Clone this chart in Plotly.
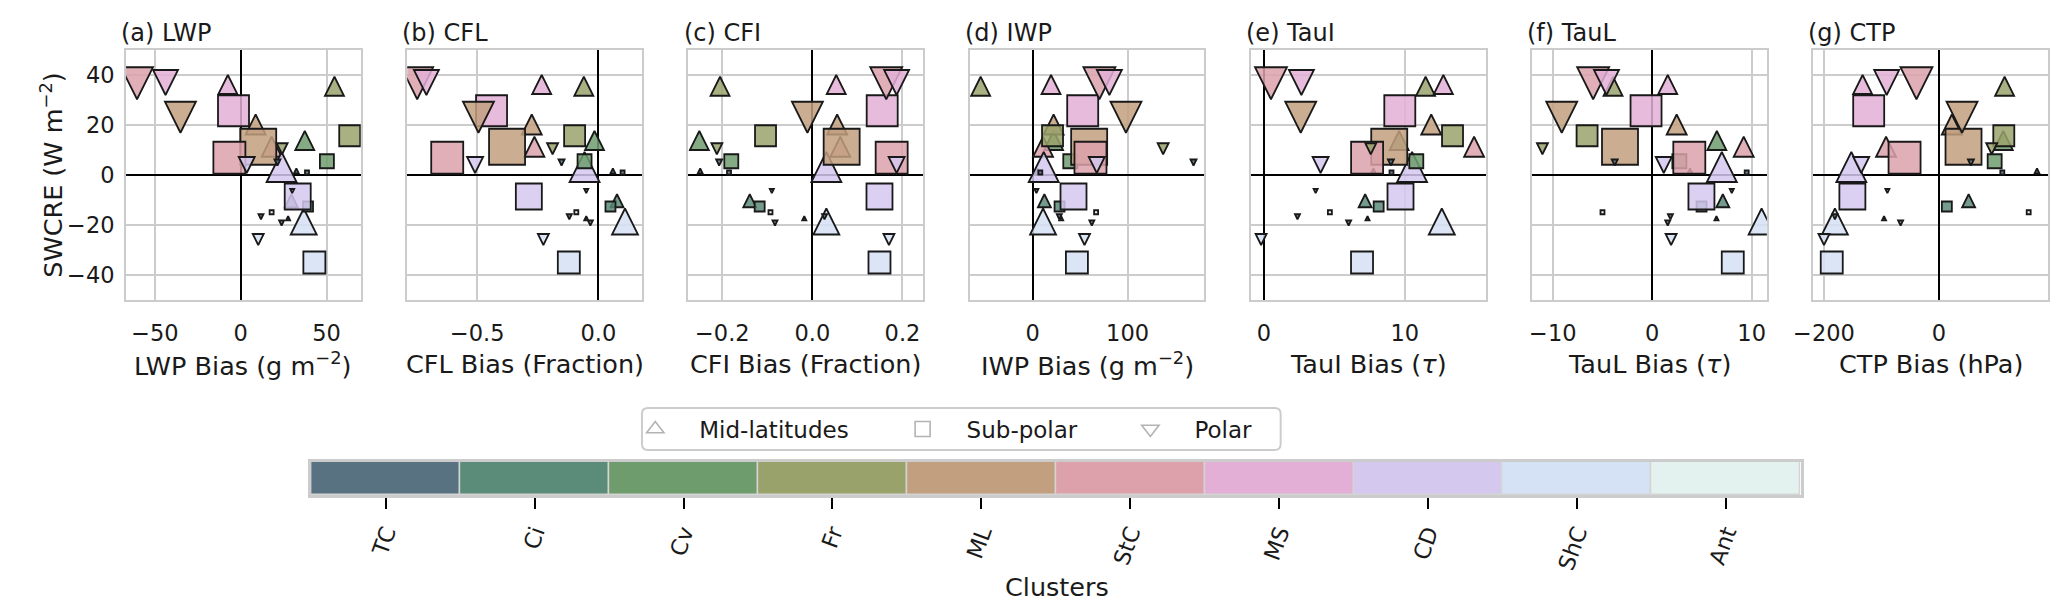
import plotly.graph_objects as go

W, H = 2067, 614
OFF = 8                      # browser body margin
FW, FH = W - 2 * OFF, H - 2 * OFF

# ---------------- data ----------------
clusters = ["TC", "Ci", "Cv", "Fr", "ML", "StC", "MS", "CD", "ShC", "Ant"]
cluster_colors = ["#587282", "#5b8b79", "#6f9c6d", "#9aa26b", "#c29f7f",
                  "#dca1ab", "#e3afd6", "#d5c8ee", "#d5e1f4", "#e3f2ee"]
regions = ["Mid-latitudes", "Sub-polar", "Polar"]

# SWCRE (W m-2) per cluster, one list per region
swcre_mid = [1.6, -10.3, 13.8, 35.5, 20.2, 11.3, 36.2, 3.2, -18.6, -17.3]
swcre_sub = [1.0, -12.6, 5.5, 15.7, 11.3, 6.9, 25.7, -8.6, -35.0, -14.9]
swcre_polar = [5.0, -16.7, -19.2, 10.5, 23.1, 36.7, 37.0, 4.0, -25.8, -6.4]

# relative frequency of occurrence -> marker size
rfo_mid = [5, 13, 19, 19, 20, 20, 19, 30, 26, 4]
rfo_sub = [4, 10, 14, 21, 36, 32, 31, 26, 22, 4]
rfo_polar = [6, 5, 5, 11, 31, 32, 25, 16, 11, 4]

# biases per variable
lwp_mid = [32.4, 29.5, 37.3, 54.6, 8.7, 18.0, -7.5, 23.8, 36.7, 27.6]
lwp_sub = [38.6, 39.2, 50.2, 63.5, 10.2, -6.6, -4.2, 33.2, 42.9, 18.0]
lwp_polar = [21.4, 11.8, 23.8, 24.1, -35.1, -60.4, -43.8, 3.5, 10.2, 30.0]

cfl_mid = [0.06, 0.077, -0.016, -0.060, -0.275, -0.264, -0.234, -0.057, 0.11, -0.05]
cfl_sub = [0.10, 0.05, -0.057, -0.098, -0.377, -0.624, -0.441, -0.287, -0.122, -0.091]
cfl_polar = [-0.152, -0.12, -0.033, -0.189, -0.495, -0.748, -0.710, -0.509, -0.227, -0.05]

cfi_mid = [-0.249, -0.139, -0.251, -0.205, 0.055, 0.062, 0.053, 0.031, 0.031, -0.018]
cfi_sub = [-0.185, -0.117, -0.180, -0.104, 0.065, 0.176, 0.155, 0.149, 0.149, -0.093]
cfi_polar = [-0.207, 0.027, -0.083, -0.212, -0.011, 0.164, 0.187, 0.187, 0.170, -0.090]

iwp_mid = [5.0, 12.3, 22.0, -54.9, 22.0, 10.9, 19.3, 11.6, 10.9, 30.0]
iwp_sub = [8.0, 28.3, 39.6, 20.9, 59.5, 60.9, 52.7, 43.0, 46.6, 66.8]
iwp_polar = [169.5, 28.0, 62.3, 137.5, 98.3, 70.3, 80.8, 67.5, 54.6, 3.9]

taui_mid = [7.78, 7.19, 9.6, 11.48, 11.88, 14.92, 12.74, 10.52, 12.63, 7.36]
taui_sub = [9.06, 8.15, 10.82, 13.39, 8.9, 7.33, 9.65, 9.7, 6.97, 4.69]
taui_polar = [9.02, 2.39, 6.02, 7.59, 2.62, 0.51, 2.67, 4.03, -0.19, 3.68]

taul_mid = [3.8, 7.1, 6.5, -3.94, 2.46, 9.2, 1.56, 7.0, 11.0, 6.46]
taul_sub = [9.5, 4.96, 2.73, -6.55, -3.24, 3.73, -0.62, 4.95, 8.1, -5.0]
taul_polar = [-3.77, 1.83, 1.56, -11.04, -9.1, -5.94, -4.6, 1.16, 1.9, 8.0]

ctp_mid = [170.7, 51.7, 112.0, 114.3, 22.4, -92.0, -132.8, -152.4, -181.0, -95.5]
ctp_sub = [110.3, 13.8, 97.0, 112.9, 42.8, -59.8, -122.2, -150.6, -186.5, 156.2]
ctp_polar = [55.7, -181.0, -66.7, 91.9, 40.2, -39.1, -90.9, -135.2, -200.0, -89.7]

y_ticks = [-40, -20, 0, 20, 40]
y_ticktext = ["\u221240", "\u221220", "0", "20", "40"]

panels = [
    dict(title="(a) LWP", xlabel="LWP Bias (g m<sup>\u22122</sup>)",
         data=(lwp_mid, lwp_sub, lwp_polar), rng=[-66.8, 69.9],
         tv=[-50, 0, 50], tt=["\u221250", "0", "50"]),
    dict(title="(b) CFL", xlabel="CFL Bias (Fraction)",
         data=(cfl_mid, cfl_sub, cfl_polar), rng=[-0.789, 0.18],
         tv=[-0.5, 0.0], tt=["\u22120.5", "0.0"]),
    dict(title="(c) CFI", xlabel="CFI Bias (Fraction)",
         data=(cfi_mid, cfi_sub, cfi_polar), rng=[-0.275, 0.246],
         tv=[-0.2, 0.0, 0.2], tt=["\u22120.2", "0.0", "0.2"]),
    dict(title="(d) IWP", xlabel="IWP Bias (g m<sup>\u22122</sup>)",
         data=(iwp_mid, iwp_sub, iwp_polar), rng=[-66.4, 181.0],
         tv=[0, 100], tt=["0", "100"]),
    dict(title="(e) TauI", xlabel="TauI Bias (<i>\u03c4</i>)",
         data=(taui_mid, taui_sub, taui_polar), rng=[-0.91, 15.74],
         tv=[0, 10], tt=["0", "10"]),
    dict(title="(f) TauL", xlabel="TauL Bias (<i>\u03c4</i>)",
         data=(taul_mid, taul_sub, taul_polar), rng=[-12.07, 11.53],
         tv=[-10, 0, 10], tt=["\u221210", "0", "10"]),
    dict(title="(g) CTP", xlabel="CTP Bias (hPa)",
         data=(ctp_mid, ctp_sub, ctp_polar), rng=[-218.4, 190.0],
         tv=[-200, 0], tt=["\u2212200", "0"]),
]

# ---------------- layout helpers ----------------
panel_left = [107, 391, 675, 959, 1243, 1527, 1811]
panel_w = 237
plot_top, plot_bot = 50, 300
FONT = "DejaVu Sans"
TXT = "#1a1a1a"


def px_x(p):
    return (p - OFF) / FW


def px_y(p):
    return 1 - (p - OFF) / FH


def rgba(hexc, a):
    h = hexc.lstrip("#")
    return "rgba(%d,%d,%d,%.2f)" % (int(h[0:2], 16), int(h[2:4], 16), int(h[4:6], 16), a)


fill_colors = [rgba(c, 0.85) for c in cluster_colors]
swcre = (swcre_mid, swcre_sub, swcre_polar)
rfo = (rfo_mid, rfo_sub, rfo_polar)

fig = go.Figure()
layout = dict(width=FW, height=FH, margin=dict(l=0, r=0, t=0, b=0),
              paper_bgcolor="white", plot_bgcolor="white",
              font=dict(family=FONT, color=TXT), showlegend=True,
              annotations=[], shapes=[])

for i, p in enumerate(panels):
    n = i + 1
    xa = "xaxis" if n == 1 else "xaxis%d" % n
    ya = "yaxis" if n == 1 else "yaxis%d" % n
    xr = "x" if n == 1 else "x%d" % n
    yr = "y" if n == 1 else "y%d" % n
    left = panel_left[i]
    layout[xa] = dict(domain=[px_x(left), px_x(left + panel_w)], range=p["rng"],
                      tickvals=p["tv"], ticktext=p["tt"], anchor=yr,
                      showgrid=True, gridcolor="#cccccc", gridwidth=2,
                      zeroline=True, zerolinecolor="black", zerolinewidth=1.6,
                      showline=True, mirror=True, linecolor="#cccccc", linewidth=2,
                      ticks="", ticklabelstandoff=12,
                      tickfont=dict(size=22.5, family=FONT, color=TXT))
    layout[ya] = dict(domain=[px_y(plot_bot), px_y(plot_top)], range=[-50, 50],
                      tickvals=y_ticks, ticktext=y_ticktext, anchor=xr,
                      showticklabels=(n == 1),
                      showgrid=True, gridcolor="#cccccc", gridwidth=2,
                      zeroline=True, zerolinecolor="black", zerolinewidth=1.6,
                      showline=True, mirror=True, linecolor="#cccccc", linewidth=2,
                      ticks="", ticklabelstandoff=5,
                      tickfont=dict(size=22.5, family=FONT, color=TXT))
    for r in range(3):
        sizes = rfo[r]
        if r == 0:
            sym, ang, so = "arrow-down", 180, [s / 2 for s in sizes]
        elif r == 1:
            sym, ang, so = "square", 0, [0 for s in sizes]
        else:
            sym, ang, so = "arrow-down", 0, [s / 2 for s in sizes]
        fig.add_trace(go.Scatter(
            x=p["data"][r], y=swcre[r], xaxis=xr, yaxis=yr, mode="markers",
            showlegend=False, hoverinfo="skip",
            marker=dict(symbol=sym, angle=ang, standoff=so, size=sizes,
                        color=fill_colors, opacity=1,
                        line=dict(color="rgba(25,25,25,1)", width=1.8))))
    layout["annotations"].append(dict(
        text=p["title"], xref="paper", yref="paper", x=px_x(left - 7), y=px_y(33),
        xanchor="left", yanchor="middle", showarrow=False,
        font=dict(size=24, family=FONT, color=TXT)))
    layout["annotations"].append(dict(
        text=p["xlabel"], xref="paper", yref="paper", x=px_x(left + panel_w / 2),
        y=px_y(364), xanchor="center", yanchor="middle", showarrow=False,
        font=dict(size=25.5, family=FONT, color=TXT)))

layout["annotations"].append(dict(
    text="SWCRE (W m<sup>\u22122</sup>)", xref="paper", yref="paper",
    x=px_x(32), y=px_y(175), xanchor="center", yanchor="middle", textangle=-90,
    showarrow=False, font=dict(size=25.5, family=FONT, color=TXT)))

# ---------------- cluster colour strip ----------------
cb_left, cb_right, cb_top, cb_bot = 294, 1798, 462, 495
layout["xaxis8"] = dict(domain=[px_x(cb_left), px_x(cb_right)], range=[-0.5, 9.5],
                        anchor="y8", tickvals=list(range(10)), ticktext=clusters,
                        tickangle=-70, ticks="outside", ticklen=11, tickwidth=2,
                        tickcolor="black", showgrid=False, zeroline=False,
                        showline=True, mirror=True, linecolor="#cccccc", linewidth=2.5,
                        ticklabelstandoff=2,
                        tickfont=dict(size=22.5, family=FONT, color=TXT))
layout["yaxis8"] = dict(domain=[px_y(cb_bot), px_y(cb_top)], range=[0, 1], anchor="x8",
                        showticklabels=False, showgrid=False, zeroline=False,
                        showline=True, mirror=True, linecolor="#cccccc", linewidth=2.5,
                        ticks="")
fig.add_trace(go.Bar(x=list(range(10)), y=[1] * 10, width=1, xaxis="x8", yaxis="y8",
                     marker=dict(color=cluster_colors, line=dict(color="#d4d4d4", width=1.5)),
                     showlegend=False, hoverinfo="skip"))
layout["bargap"] = 0
layout["annotations"].append(dict(
    text="Clusters", xref="paper", yref="paper", x=px_x(1047), y=px_y(587),
    xanchor="center", yanchor="middle", showarrow=False,
    font=dict(size=25.5, family=FONT, color=TXT)))

# ---------------- legend (three entries placed like the original) ----------------
leg_syms = ["triangle-up", "square", "triangle-down"]
leg_text_x = [705, 975, 1205]
ITEMW = 78
for r in range(3):
    lname = "legend" if r == 0 else "legend%d" % (r + 1)
    fig.add_trace(go.Scatter(
        x=[None], y=[None], mode="markers", name=regions[r], legend=lname,
        marker=dict(symbol=leg_syms[r], size=15, color="rgba(0,0,0,0)",
                    line=dict(color="#b3b3b3", width=1.6))))
    layout[lname] = dict(x=px_x(leg_text_x[r] - 108), y=px_y(429), xanchor="left",
                         yanchor="middle", orientation="h", bgcolor="rgba(0,0,0,0)",
                         borderwidth=0, itemwidth=ITEMW,
                         font=dict(size=23, family=FONT, color=TXT))

# rounded legend frame
lx0, lx1, ly0, ly1, rad = 628, 1273, 408, 450, 6
path = ("M {a},{b} L {c},{b} Q {d},{b} {d},{e} L {d},{f} Q {d},{g} {c},{g} "
        "L {a},{g} Q {h},{g} {h},{f} L {h},{e} Q {h},{b} {a},{b} Z").format(
    a=px_x(lx0 + rad), b=px_y(ly0), c=px_x(lx1 - rad), d=px_x(lx1),
    e=px_y(ly0 + rad), f=px_y(ly1 - rad), g=px_y(ly1), h=px_x(lx0))
layout["shapes"].append(dict(type="path", xref="paper", yref="paper", path=path,
                             line=dict(color="#cccccc", width=2), layer="below"))

fig.update_layout(**layout)
fig.write_html("out.html")
